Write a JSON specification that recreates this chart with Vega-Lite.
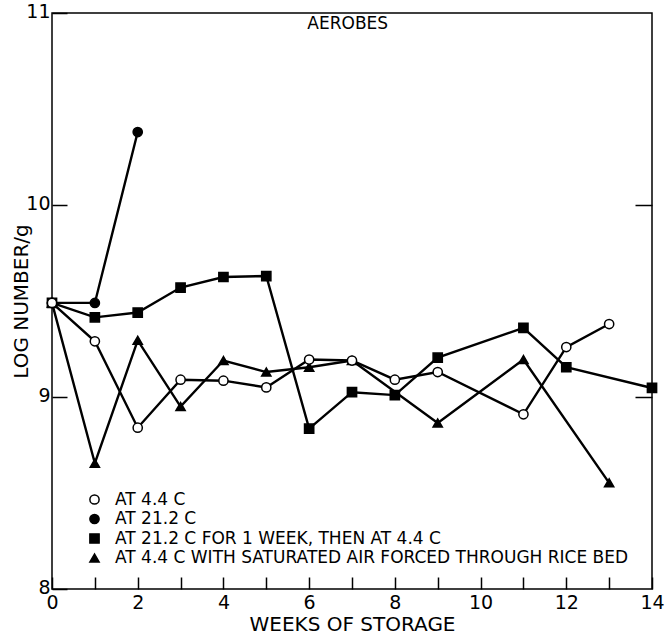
{
  "$schema": "https://vega.github.io/schema/vega-lite/v6.json",
  "width": 600,
  "height": 576,
  "autosize": {"type": "none"},
  "padding": {"left": 52, "top": 13, "right": 13, "bottom": 45},
  "background": "white",
  "config": {
    "view": {"stroke": "black", "strokeWidth": 1.5},
    "font": "DejaVu Sans",
    "axis": {
      "domain": false,
      "grid": false,
      "labelColor": "black",
      "titleColor": "black",
      "tickColor": "black",
      "tickWidth": 1.5,
      "labelFont": "DejaVu Sans",
      "titleFont": "DejaVu Sans",
      "labelFontWeight": "normal",
      "titleFontWeight": "normal",
      "labelFontSize": 19,
      "titleFontSize": 20
    },
    "legend": {
      "orient": "none",
      "legendX": 34,
      "legendY": 478,
      "padding": 0,
      "labelFont": "DejaVu Sans",
      "labelFontSize": 17,
      "labelColor": "black",
      "labelLimit": 700,
      "labelOffset": 12,
      "rowPadding": 1.5,
      "symbolStrokeWidth": 1.5
    }
  },
  "data": {
    "values": [
      {"series": "AT 21.2 C FOR 1 WEEK, THEN AT 4.4 C", "week": 0, "logN": 9.49},
      {"series": "AT 21.2 C FOR 1 WEEK, THEN AT 4.4 C", "week": 1, "logN": 9.415},
      {"series": "AT 21.2 C FOR 1 WEEK, THEN AT 4.4 C", "week": 2, "logN": 9.44},
      {"series": "AT 21.2 C FOR 1 WEEK, THEN AT 4.4 C", "week": 3, "logN": 9.57},
      {"series": "AT 21.2 C FOR 1 WEEK, THEN AT 4.4 C", "week": 4, "logN": 9.625},
      {"series": "AT 21.2 C FOR 1 WEEK, THEN AT 4.4 C", "week": 5, "logN": 9.63},
      {"series": "AT 21.2 C FOR 1 WEEK, THEN AT 4.4 C", "week": 6, "logN": 8.835},
      {"series": "AT 21.2 C FOR 1 WEEK, THEN AT 4.4 C", "week": 7, "logN": 9.025},
      {"series": "AT 21.2 C FOR 1 WEEK, THEN AT 4.4 C", "week": 8, "logN": 9.01},
      {"series": "AT 21.2 C FOR 1 WEEK, THEN AT 4.4 C", "week": 9, "logN": 9.205},
      {"series": "AT 21.2 C FOR 1 WEEK, THEN AT 4.4 C", "week": 11, "logN": 9.36},
      {"series": "AT 21.2 C FOR 1 WEEK, THEN AT 4.4 C", "week": 12, "logN": 9.155},
      {"series": "AT 21.2 C FOR 1 WEEK, THEN AT 4.4 C", "week": 14, "logN": 9.047},
      {"series": "AT 4.4 C WITH SATURATED AIR FORCED THROUGH RICE BED", "week": 0, "logN": 9.49},
      {"series": "AT 4.4 C WITH SATURATED AIR FORCED THROUGH RICE BED", "week": 1, "logN": 8.655},
      {"series": "AT 4.4 C WITH SATURATED AIR FORCED THROUGH RICE BED", "week": 2, "logN": 9.295},
      {"series": "AT 4.4 C WITH SATURATED AIR FORCED THROUGH RICE BED", "week": 3, "logN": 8.95},
      {"series": "AT 4.4 C WITH SATURATED AIR FORCED THROUGH RICE BED", "week": 4, "logN": 9.19},
      {"series": "AT 4.4 C WITH SATURATED AIR FORCED THROUGH RICE BED", "week": 5, "logN": 9.13},
      {"series": "AT 4.4 C WITH SATURATED AIR FORCED THROUGH RICE BED", "week": 6, "logN": 9.155},
      {"series": "AT 4.4 C WITH SATURATED AIR FORCED THROUGH RICE BED", "week": 7, "logN": 9.19},
      {"series": "AT 4.4 C WITH SATURATED AIR FORCED THROUGH RICE BED", "week": 9, "logN": 8.865},
      {"series": "AT 4.4 C WITH SATURATED AIR FORCED THROUGH RICE BED", "week": 11, "logN": 9.195},
      {"series": "AT 4.4 C WITH SATURATED AIR FORCED THROUGH RICE BED", "week": 13, "logN": 8.553},
      {"series": "AT 21.2 C", "week": 0, "logN": 9.49},
      {"series": "AT 21.2 C", "week": 1, "logN": 9.49},
      {"series": "AT 21.2 C", "week": 2, "logN": 10.38},
      {"series": "AT 4.4 C", "week": 0, "logN": 9.49},
      {"series": "AT 4.4 C", "week": 1, "logN": 9.29},
      {"series": "AT 4.4 C", "week": 2, "logN": 8.84},
      {"series": "AT 4.4 C", "week": 3, "logN": 9.09},
      {"series": "AT 4.4 C", "week": 4, "logN": 9.085},
      {"series": "AT 4.4 C", "week": 5, "logN": 9.05},
      {"series": "AT 4.4 C", "week": 6, "logN": 9.195},
      {"series": "AT 4.4 C", "week": 7, "logN": 9.19},
      {"series": "AT 4.4 C", "week": 8, "logN": 9.09},
      {"series": "AT 4.4 C", "week": 9, "logN": 9.13},
      {"series": "AT 4.4 C", "week": 11, "logN": 8.91},
      {"series": "AT 4.4 C", "week": 12, "logN": 9.26},
      {"series": "AT 4.4 C", "week": 13, "logN": 9.38}
    ]
  },
  "resolve": {"axis": {"y": "independent"}},
  "layer": [
    {
      "mark": {"type": "line", "color": "black", "strokeWidth": 2.4},
      "encoding": {
        "x": {
          "field": "week",
          "type": "quantitative",
          "scale": {"domain": [0, 14], "nice": false},
          "axis": {
            "title": "WEEKS OF STORAGE",
            "values": [0, 1, 2, 3, 4, 5, 6, 7, 8, 9, 10, 11, 12, 13, 14],
            "labelExpr": "datum.value % 2 === 0 ? datum.label : ''",
            "tickSize": -12,
            "labelPadding": 16,
            "titlePadding": 2,
            "labelFlush": false,
            "labelOverlap": false
          }
        },
        "y": {
          "field": "logN",
          "type": "quantitative",
          "scale": {"domain": [8, 11], "nice": false, "zero": false},
          "axis": {
            "title": "LOG NUMBER/g",
            "values": [8, 9, 10, 11],
            "tickSize": -15,
            "labelPadding": 17,
            "labelOffset": -2,
            "titlePadding": -6,
            "labelFlush": false,
            "labelOverlap": false
          }
        },
        "detail": {"field": "series"}
      }
    },
    {
      "mark": {"type": "point", "filled": true, "strokeWidth": 1.5, "opacity": 1},
      "encoding": {
        "x": {"field": "week", "type": "quantitative"},
        "y": {"field": "logN", "type": "quantitative", "axis": null},
        "shape": {
          "field": "series",
          "type": "nominal",
          "scale": {
            "domain": ["AT 4.4 C", "AT 21.2 C", "AT 21.2 C FOR 1 WEEK, THEN AT 4.4 C", "AT 4.4 C WITH SATURATED AIR FORCED THROUGH RICE BED"],
            "range": ["circle", "circle", "square", "triangle-up"]
          },
          "legend": {"title": null}
        },
        "fill": {
          "field": "series",
          "type": "nominal",
          "scale": {
            "domain": ["AT 4.4 C", "AT 21.2 C", "AT 21.2 C FOR 1 WEEK, THEN AT 4.4 C", "AT 4.4 C WITH SATURATED AIR FORCED THROUGH RICE BED"],
            "range": ["white", "black", "black", "black"]
          },
          "legend": {"title": null}
        },
        "stroke": {
          "field": "series",
          "type": "nominal",
          "scale": {
            "domain": ["AT 4.4 C", "AT 21.2 C", "AT 21.2 C FOR 1 WEEK, THEN AT 4.4 C", "AT 4.4 C WITH SATURATED AIR FORCED THROUGH RICE BED"],
            "range": ["black", "black", "black", "black"]
          },
          "legend": {"title": null}
        },
        "size": {
          "field": "series",
          "type": "nominal",
          "scale": {
            "domain": ["AT 4.4 C", "AT 21.2 C", "AT 21.2 C FOR 1 WEEK, THEN AT 4.4 C", "AT 4.4 C WITH SATURATED AIR FORCED THROUGH RICE BED"],
            "range": [85, 85, 80, 130]
          },
          "legend": {"title": null}
        }
      }
    },
    {
      "mark": {"type": "point", "opacity": 0},
      "encoding": {
        "x": {"field": "week", "type": "quantitative"},
        "y": {
          "field": "logN",
          "type": "quantitative",
          "axis": {
            "orient": "right",
            "title": null,
            "labels": false,
            "values": [9, 10],
            "tickSize": -17
          }
        }
      }
    },
    {
      "data": {"values": [{"label": "AEROBES"}]},
      "mark": {"type": "text", "fontSize": 17, "font": "DejaVu Sans", "color": "black"},
      "encoding": {
        "x": {"datum": 6.9, "type": "quantitative"},
        "y": {"datum": 10.945, "type": "quantitative", "axis": null},
        "text": {"field": "label"}
      }
    }
  ]
}
